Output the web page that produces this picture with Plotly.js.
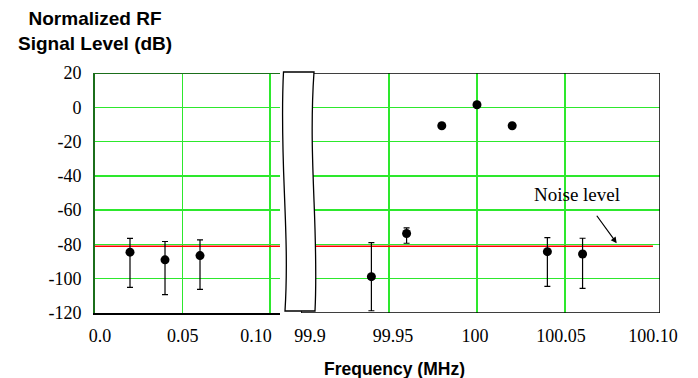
<!DOCTYPE html>
<html>
<head>
<meta charset="utf-8">
<script src="https://cdn.plot.ly/plotly-3.0.1.min.js"></script>
<style>html,body{margin:0;padding:0;background:#fff;}</style>
</head>
<body>
<div id="chart" style="width:698px;height:378px;"></div>
<script>
// ---- data ----
const leftFreq = [0.02, 0.04, 0.06];
const leftLevel = [-84.5, -89, -86.5];
const leftHigh = [-76.5, -78.3, -77.4];
const leftLow = [-105, -109.3, -106.2];

const rightFreq = [99.94, 99.96, 100.04, 100.06];
const rightLevel = [-98.8, -73.6, -84.2, -85.6];
const rightHigh = [-78.9, -70.3, -76.0, -76.4];
const rightLow = [-118.7, -79.3, -104.5, -105.6];

const peakFreq = [99.98, 100.0, 100.02];
const peakLevel = [-10.8, 1.5, -10.8];

const noiseLevel = -81;
const leftRange = [0, 0.1057];
const rightRange = [99.9, 100.104];
// gridline positions
const leftGrid = [0.05, 0.10];
const rightGrid = [99.95, 100, 100.05];
// tick label positions (as placed in the original) and texts
const leftLabelPos = [0.0029, 0.0501, 0.092];
const leftTickText = ['0.0', '0.05', '0.10'];
const rightLabelPos = [99.9051, 99.9523, 99.9989, 100.0477, 100.10];
const rightTickText = ['99.9', '99.95', '100', '100.05', '100.10'];
const yTicks = [-120, -100, -80, -60, -40, -20, 0, 20];
const yTickText = ['-120', '-100', '-80', '-60', '-40', '-20', '0', '20'];

const GRID = '#2de82d';
const serif = "'Liberation Serif', 'Times New Roman', serif";
const sans = "'Liberation Sans', Arial, sans-serif";

function plus(v, h) { return v.map((x, i) => h[i] - x); }
function minus(v, l) { return v.map((x, i) => x - l[i]); }

const markerStyle = {color: '#000', size: 9};
const errStyle = {color: '#000', thickness: 1.2, width: 3};

const traces = [
  {x: leftRange, y: [noiseLevel, noiseLevel], xaxis: 'x', yaxis: 'y', mode: 'lines',
   line: {color: '#ff0000', width: 1.5}, hoverinfo: 'skip'},
  {x: [rightRange[0], 100.10], y: [noiseLevel, noiseLevel], xaxis: 'x2', yaxis: 'y', mode: 'lines',
   line: {color: '#ff0000', width: 1.5}, hoverinfo: 'skip'},
  {x: leftFreq, y: leftLevel, xaxis: 'x', yaxis: 'y', mode: 'markers', marker: markerStyle,
   error_y: Object.assign({type: 'data', symmetric: false, array: plus(leftLevel, leftHigh), arrayminus: minus(leftLevel, leftLow)}, errStyle)},
  {x: rightFreq, y: rightLevel, xaxis: 'x2', yaxis: 'y', mode: 'markers', marker: markerStyle,
   error_y: Object.assign({type: 'data', symmetric: false, array: plus(rightLevel, rightHigh), arrayminus: minus(rightLevel, rightLow)}, errStyle)},
  {x: peakFreq, y: peakLevel, xaxis: 'x2', yaxis: 'y', mode: 'markers', marker: markerStyle}
];

// paper coords helpers for break symbol (plot area: 565 x 240 px)
const PX = p => (p - 95) / 565;
const PY = p => (313 - p) / 240;
const brk = 'M ' + PX(283.5) + ' ' + PY(72) +
  ' C ' + PX(279) + ' ' + PY(160) + ' ' + PX(290) + ' ' + PY(230) + ' ' + PX(285) + ' ' + PY(311) +
  ' L ' + PX(315) + ' ' + PY(311) +
  ' C ' + PX(319) + ' ' + PY(230) + ' ' + PX(308) + ' ' + PY(160) + ' ' + PX(314) + ' ' + PY(72) + ' Z';

const tickFont = {family: serif, size: 18, color: '#000'};

const layout = {
  width: 698, height: 378,
  margin: {l: 95, r: 38, t: 73, b: 65},
  paper_bgcolor: '#fff', plot_bgcolor: '#fff',
  font: {family: serif, size: 18, color: '#000'},
  showlegend: false,
  xaxis: {domain: [0, 185 / 565], range: leftRange, tickmode: 'array', tickvals: leftLabelPos, ticktext: leftTickText,
          showgrid: false, zeroline: false, showline: true, linecolor: '#000', linewidth: 1.5,
          ticks: 'outside', ticklen: 6, tickcolor: 'rgba(0,0,0,0)', tickfont: tickFont,
          minor: {tickmode: 'array', tickvals: leftGrid, showgrid: true, gridcolor: GRID, gridwidth: 1.5, ticks: ''}},
  xaxis2: {domain: [206 / 565, 1], range: rightRange, anchor: 'y', tickmode: 'array', tickvals: rightLabelPos, ticktext: rightTickText,
           showgrid: false, zeroline: false, showline: false,
           ticks: 'outside', ticklen: 6, tickcolor: 'rgba(0,0,0,0)', tickfont: tickFont,
           minor: {tickmode: 'array', tickvals: rightGrid, showgrid: true, gridcolor: GRID, gridwidth: 1.5, ticks: ''}},
  yaxis: {range: [-120, 20], tickmode: 'array', tickvals: yTicks, ticktext: yTickText, showgrid: true, gridcolor: GRID, gridwidth: 1.5,
          zeroline: false, showline: true, linecolor: '#1b6e1b', linewidth: 2,
          ticks: 'outside', ticklen: 8, tickcolor: 'rgba(0,0,0,0)', tickfont: tickFont},
  shapes: [
    {type: 'line', xref: 'x', yref: 'y', x0: leftRange[0], x1: leftRange[1], y0: 20, y1: 20, line: {color: '#1b6e1b', width: 2}},
    {type: 'rect', xref: 'x2', yref: 'y', x0: rightRange[0], x1: rightRange[1], y0: -120, y1: 20, line: {color: '#000', width: 1.5}},
    {type: 'path', xref: 'paper', yref: 'paper', path: brk, fillcolor: '#fff', line: {color: '#000', width: 1.3}}
  ],
  annotations: [
    {xref: 'paper', yref: 'paper', x: PX(94.5), y: PY(31), xanchor: 'center', yanchor: 'middle', showarrow: false,
     text: '<b>Normalized RF<br>Signal Level (dB)</b>', font: {family: sans, size: 19, color: '#000'}},
    {xref: 'paper', yref: 'paper', x: PX(394), y: PY(369), xanchor: 'center', yanchor: 'middle', showarrow: false,
     text: '<b>Frequency (MHz)</b>', font: {family: sans, size: 17.5, color: '#000'}},
    {xref: 'x2', yref: 'y', x: 100.0566, y: -50.6, showarrow: false, text: 'Noise level',
     font: {family: serif, size: 19, color: '#000'}},
    {xref: 'x2', yref: 'y', x: 100.0794, y: -79.3, text: '', showarrow: true, ax: -21, ay: -29,
     arrowhead: 2, arrowsize: 1, arrowwidth: 1.2, arrowcolor: '#000', standoff: 0}
  ]
};

Plotly.newPlot('chart', traces, layout, {staticPlot: true, displayModeBar: false});
</script>
</body>
</html>
